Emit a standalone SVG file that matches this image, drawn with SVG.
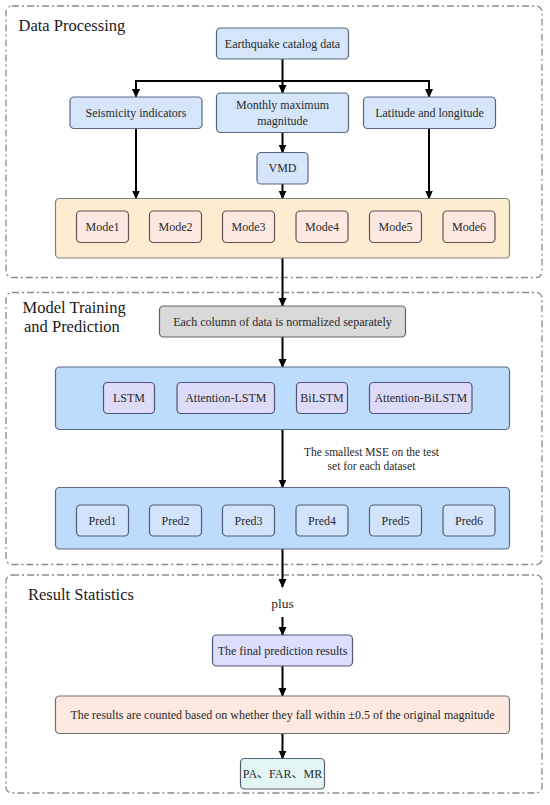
<svg xmlns="http://www.w3.org/2000/svg" width="550" height="805" viewBox="0 0 550 805">
<defs>
<marker id="ah" markerWidth="9" markerHeight="9" refX="8" refY="4.5" orient="auto" markerUnits="userSpaceOnUse" viewBox="0 0 9 9">
<path d="M0,0.5 L9,4.5 L0,8.5 Z" fill="#000"/>
</marker>
<style>
.sec{fill:#fff;stroke:#8a8a8a;stroke-width:1.3;stroke-dasharray:7 3 2 3}
.ttl{font-family:"Liberation Serif","Noto Sans CJK SC",serif;font-size:16.5px;fill:#1a1a1a}
.t{font-family:"Liberation Serif","Noto Sans CJK SC",serif;font-size:12px;fill:#2a2a2a;text-anchor:middle;dominant-baseline:central}
.blue{fill:#d5e5fa;stroke:#5a6680;stroke-width:1.2}
.cont-o{fill:#fdedd0;stroke:#808080;stroke-width:1.2}
.mode{fill:#fbe8e0;stroke:#5e5454;stroke-width:1.2}
.gray{fill:#d9d9d9;stroke:#606060;stroke-width:1.2}
.cont-b{fill:#bddbfb;stroke:#5a6a86;stroke-width:1.2}
.lav{fill:#dcdcf9;stroke:#505478;stroke-width:1.2}
.pred{fill:#d2e4fb;stroke:#4f5d78;stroke-width:1.2}
.fin{fill:#dcdefb;stroke:#505478;stroke-width:1.2}
.res{fill:#fde9df;stroke:#707070;stroke-width:1.2}
.pa{fill:#e0f5f4;stroke:#5a6070;stroke-width:1.2}
.c{stroke:#000;stroke-width:2;fill:none}
.ca{stroke:#000;stroke-width:2;fill:none;marker-end:url(#ah)}
</style>
</defs>

<g id="section-data-processing">
<rect class="sec" x="6" y="6" width="536" height="271.5" rx="6"/>
<text class="ttl" x="18.5" y="31">Data Processing</text>
</g>
<g id="section-model-training">
<rect class="sec" x="6" y="292.5" width="536" height="272" rx="6"/>
<text class="ttl" x="22.5" y="313">Model Training</text>
<text class="ttl" x="24" y="332">and Prediction</text>
</g>
<g id="section-result-statistics">
<rect class="sec" x="6" y="575" width="536" height="218" rx="6"/>
<text class="ttl" x="28" y="599.5">Result Statistics</text>
</g>

<g id="connectors">
<line class="ca" x1="282.5" y1="59" x2="282.5" y2="93"/>
<line class="c" x1="136" y1="81" x2="429" y2="81"/>
<line class="ca" x1="136" y1="80" x2="136" y2="97"/>
<line class="ca" x1="429" y1="80" x2="429" y2="97"/>
<line class="ca" x1="136" y1="128.5" x2="136" y2="198.5"/>
<line class="ca" x1="429" y1="128.5" x2="429" y2="198.5"/>
<line class="ca" x1="282.5" y1="132.5" x2="282.5" y2="152.5"/>
<line class="ca" x1="282.5" y1="184" x2="282.5" y2="198.5"/>
<line class="ca" x1="282.5" y1="258" x2="282.5" y2="306"/>
<line class="ca" x1="282.5" y1="337" x2="282.5" y2="367"/>
<line class="ca" x1="282.5" y1="429.5" x2="282.5" y2="487.5"/>
<line class="ca" x1="282.5" y1="549" x2="282.5" y2="587"/>
<line class="ca" x1="282.5" y1="617" x2="282.5" y2="635"/>
<line class="ca" x1="282.5" y1="666" x2="282.5" y2="696"/>
<line class="ca" x1="282.5" y1="733.5" x2="282.5" y2="758.5"/>
</g>

<g id="node-earthquake"><rect class="blue" x="216.5" y="28" width="132" height="31" rx="4"/><text class="t" x="282.5" y="43.5">Earthquake catalog data</text></g>
<g id="node-seismicity"><rect class="blue" x="70" y="97" width="132" height="31.5" rx="4"/><text class="t" x="136" y="112.8">Seismicity indicators</text></g>
<g id="node-monthly"><rect class="blue" x="216.5" y="93" width="132" height="39.5" rx="4"/><text class="t" x="282.5" y="105">Monthly maximum</text><text class="t" x="282.5" y="120.5">magnitude</text></g>
<g id="node-latlon"><rect class="blue" x="363.5" y="97" width="132" height="31.5" rx="4"/><text class="t" x="429.5" y="112.8">Latitude and longitude</text></g>
<g id="node-vmd"><rect class="blue" x="257" y="152.5" width="51" height="31.5" rx="4"/><text class="t" x="282.5" y="168.3">VMD</text></g>

<g id="node-modes">
<rect class="cont-o" x="55.5" y="198.5" width="454" height="59.5" rx="4"/>
<g id="mode1"><rect class="mode" x="76.5" y="211" width="52" height="31.5" rx="4"/><text class="t" x="102.5" y="226.8">Mode1</text></g>
<g id="mode2"><rect class="mode" x="149.5" y="211" width="52" height="31.5" rx="4"/><text class="t" x="175.5" y="226.8">Mode2</text></g>
<g id="mode3"><rect class="mode" x="222.5" y="211" width="52" height="31.5" rx="4"/><text class="t" x="248.5" y="226.8">Mode3</text></g>
<g id="mode4"><rect class="mode" x="296" y="211" width="52" height="31.5" rx="4"/><text class="t" x="322" y="226.8">Mode4</text></g>
<g id="mode5"><rect class="mode" x="369.5" y="211" width="52" height="31.5" rx="4"/><text class="t" x="395.5" y="226.8">Mode5</text></g>
<g id="mode6"><rect class="mode" x="443" y="211" width="52" height="31.5" rx="4"/><text class="t" x="469" y="226.8">Mode6</text></g>
</g>

<g id="node-normalize"><rect class="gray" x="159.5" y="306" width="246" height="31" rx="4"/><text class="t" x="282.5" y="321.5">Each column of data is normalized separately</text></g>

<g id="node-models">
<rect class="cont-b" x="55.5" y="367" width="454" height="62.5" rx="4"/>
<g id="lstm"><rect class="lav" x="103.5" y="382.5" width="51" height="31" rx="4"/><text class="t" x="129" y="398">LSTM</text></g>
<g id="att-lstm"><rect class="lav" x="177" y="382.5" width="97.5" height="31" rx="4"/><text class="t" x="225.8" y="398">Attention-LSTM</text></g>
<g id="bilstm"><rect class="lav" x="296.5" y="382.5" width="51" height="31" rx="4"/><text class="t" x="322" y="398">BiLSTM</text></g>
<g id="att-bilstm"><rect class="lav" x="369.5" y="382.5" width="102.5" height="31" rx="4"/><text class="t" x="420.8" y="398">Attention-BiLSTM</text></g>
</g>

<g id="label-mse">
<text class="t" x="371.5" y="452" style="font-size:11.5px">The smallest MSE on the test</text>
<text class="t" x="371.5" y="465.5" style="font-size:11.5px">set for each dataset</text>
</g>

<g id="node-preds">
<rect class="cont-b" x="55.5" y="487.5" width="454" height="61.5" rx="4"/>
<g id="pred1"><rect class="pred" x="76.5" y="505" width="52" height="31" rx="4"/><text class="t" x="102.5" y="520.5">Pred1</text></g>
<g id="pred2"><rect class="pred" x="149.5" y="505" width="52" height="31" rx="4"/><text class="t" x="175.5" y="520.5">Pred2</text></g>
<g id="pred3"><rect class="pred" x="222.5" y="505" width="52" height="31" rx="4"/><text class="t" x="248.5" y="520.5">Pred3</text></g>
<g id="pred4"><rect class="pred" x="296" y="505" width="52" height="31" rx="4"/><text class="t" x="322" y="520.5">Pred4</text></g>
<g id="pred5"><rect class="pred" x="369.5" y="505" width="52" height="31" rx="4"/><text class="t" x="395.5" y="520.5">Pred5</text></g>
<g id="pred6"><rect class="pred" x="443" y="505" width="52" height="31" rx="4"/><text class="t" x="469" y="520.5">Pred6</text></g>
</g>

<g id="label-plus"><text class="t" x="282.5" y="603" style="font-size:13.5px">plus</text></g>

<g id="node-final"><rect class="fin" x="212.5" y="635" width="140" height="31" rx="4"/><text class="t" x="282.5" y="650.5">The final prediction results</text></g>
<g id="node-results"><rect class="res" x="55.5" y="696" width="454" height="37.5" rx="4"/><text class="t" x="282.5" y="714.8">The results are counted based on whether they fall within ±0.5 of the original magnitude</text></g>
<g id="node-metrics"><rect class="pa" x="240.5" y="758.5" width="84" height="30.5" rx="4"/><text class="t" x="282.5" y="774">PA、FAR、MR</text></g>
</svg>
